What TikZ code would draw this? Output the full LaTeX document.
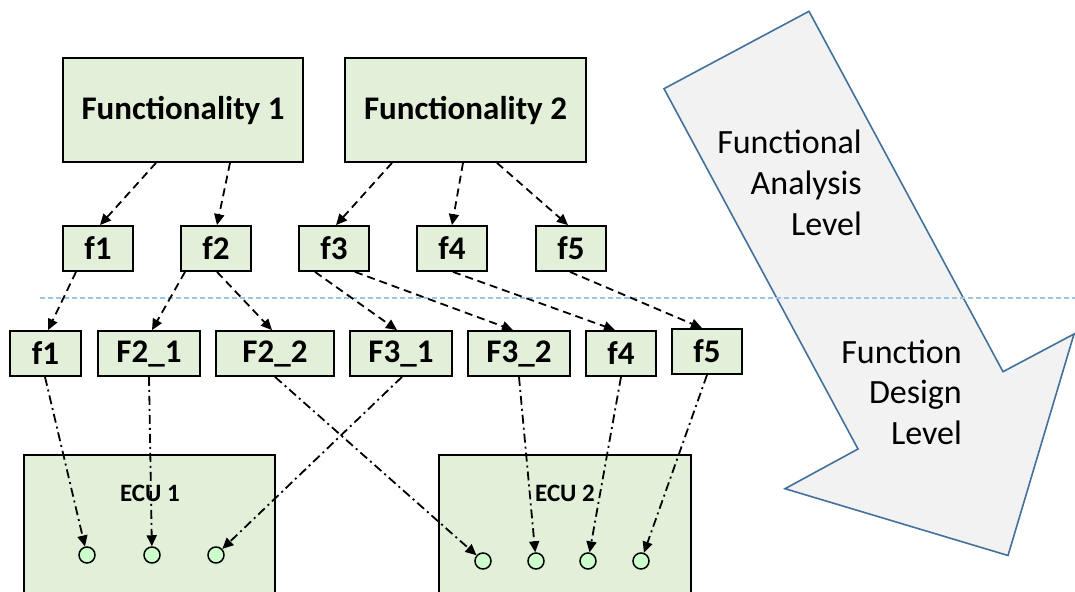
\documentclass[tikz,border=0pt]{standalone}
\usepackage{fontspec}
\setmainfont{Carlito}
\usetikzlibrary{arrows.meta}
\definecolor{boxgreen}{HTML}{E2F0D9}
\definecolor{dotgreen}{HTML}{CCFFCC}
\definecolor{arrowfill}{HTML}{F2F2F2}
\definecolor{arrowline}{HTML}{41719C}
\definecolor{levelline}{HTML}{9DC3E6}
\tikzset{
  fbox/.style={draw=black, line width=1.8pt, fill=boxgreen, inner sep=0pt,
    font=\fontsize{33}{40}\selectfont\bfseries},
  ecubox/.style={draw=black, line width=1.8pt, fill=boxgreen, inner sep=0pt},
  ecutext/.style={inner sep=0pt, font=\fontsize{25}{30}\selectfont\bfseries},
  dot/.style={circle, draw=black, line width=1.5pt, fill=dotgreen, minimum size=16pt, inner sep=0pt},
  refine/.style={line width=1.8pt, dash pattern=on 8pt off 5pt, -{Triangle[length=11pt,width=10pt]}},
  alloc/.style={line width=1.8pt, dash pattern=on 9pt off 4pt on 2pt off 4pt, -{Triangle[length=11pt,width=10pt]}},
  leveltext/.style={inner sep=0pt, align=right, font=\fontsize{34}{40.6}\selectfont}
}
\begin{document}
\begin{tikzpicture}[x=1pt,y=-1pt]
\clip (0,0) rectangle (1075,591);
\fill[white] (0,0) rectangle (1075,591);
% big arrow
\draw[arrowline, fill=arrowfill, line width=1.6pt, line join=miter]
  (664,88.7) -- (809,11.3) -- (1003,371.7) -- (1074,334) -- (1008,555.5) -- (785,488.7) -- (858,449) -- cycle;
\node[leveltext, anchor=north east] (fal) at (862,130) {Functional\\Analysis\\Level};
\node[leveltext, anchor=north east] (fdl) at (962,339.5) {Function\\Design\\Level};
% level separator
\draw[levelline, line width=1.2pt, dash pattern=on 5pt off 3pt] (40,298) coordinate (sepa) -- (1075,298) coordinate (sepb);
% top boxes
\node[fbox, minimum width=240pt, minimum height=104pt] (F1) at (183,110) {Functionality 1};
\node[fbox, minimum width=241pt, minimum height=104pt] (F2) at (465.5,110) {Functionality 2};
% first level functions
\foreach \n/\x in {1/98,2/216,3/334,4/452,5/571}{
  \node[fbox, minimum width=70pt, minimum height=45pt] (t\n) at (\x,248.5) {f\n};
}
% second level functions
\node[fbox, minimum width=71pt, minimum height=45pt] (b1) at (45.5,353.5) {f1};
\node[fbox, minimum width=102pt, minimum height=45pt] (b21) at (149,353.5) {F2\_1};
\node[fbox, minimum width=118pt, minimum height=45pt] (b22) at (275,353.5) {F2\_2};
\node[fbox, minimum width=102pt, minimum height=45pt] (b31) at (401,353.5) {F3\_1};
\node[fbox, minimum width=102pt, minimum height=45pt] (b32) at (519,353.5) {F3\_2};
\node[fbox, minimum width=70pt, minimum height=45pt] (b4) at (621,353.5) {f4};
\node[fbox, minimum width=70pt, minimum height=45pt] (b5) at (707,351.5) {f5};
% ECUs
\node[ecubox, minimum width=251pt, minimum height=180pt, anchor=north] (ecu1) at (149.5,454) {};
\node[ecubox, minimum width=252pt, minimum height=180pt, anchor=north] (ecu2) at (565,454) {};
\node[ecutext] (ecu1t) at (150,493) {ECU 1};
\node[ecutext] (ecu2t) at (565,493) {ECU 2};
% dots
\node[dot] (c1) at (87,555) {};
\node[dot] (c2) at (152,555) {};
\node[dot] (c3) at (216,555) {};
\node[dot] (d1) at (483,561) {};
\node[dot] (d2) at (536,561) {};
\node[dot] (d3) at (588,561) {};
\node[dot] (d4) at (641,561) {};
% refinement connectors
\draw[refine] ([xshift=-27pt]F1.south) -- ([xshift=2pt]t1.north);
\draw[refine] ([xshift=47pt]F1.south) -- ([xshift=1pt]t2.north);
\draw[refine] ([xshift=-73.5pt]F2.south) -- ([xshift=2pt]t3.north);
\draw[refine] ([xshift=-2.5pt]F2.south) -- ([xshift=0pt]t4.north);
\draw[refine] ([xshift=31.5pt]F2.south) -- ([xshift=-3pt]t5.north);
\draw[refine] ([xshift=-22pt]t1.south) -- ([xshift=2.5pt]b1.north);
\draw[refine] ([xshift=-31pt]t2.south) -- ([xshift=3pt]b21.north);
\draw[refine] ([xshift=1pt]t2.south) -- ([xshift=-3pt]b22.north);
\draw[refine] ([xshift=-19pt]t3.south) -- ([xshift=-4pt]b31.north);
\draw[refine] ([xshift=21pt]t3.south) -- ([xshift=-6pt]b32.north);
\draw[refine] ([xshift=1pt]t4.south) -- ([xshift=-6pt]b4.north);
\draw[refine] ([xshift=-1pt]t5.south) -- ([xshift=-5pt]b5.north);
% allocation connectors
\draw[alloc] ([xshift=-0.5pt]b1.south) -- (c1);
\draw[alloc] (b21.south) -- (c2);
\draw[alloc] ([xshift=1pt]b31.south) -- (c3);
\draw[alloc] (b22.south) -- (d1);
\draw[alloc] (b32.south) -- (d2);
\draw[alloc] (b4.south) -- (d3);
\draw[alloc] (b5.south) -- (d4);
\end{tikzpicture}
\end{document}
